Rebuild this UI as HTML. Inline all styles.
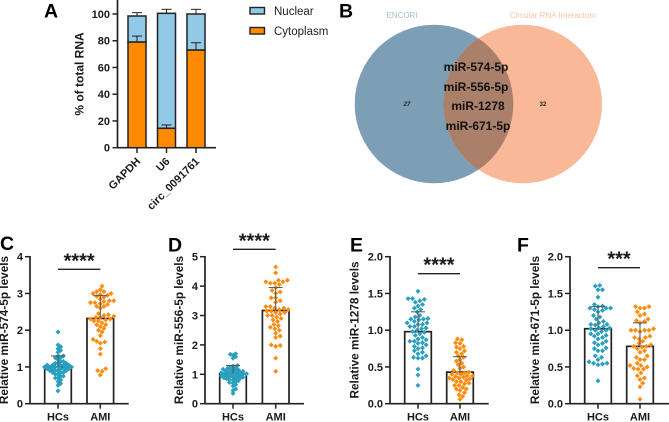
<!DOCTYPE html>
<html><head><meta charset="utf-8"><style>
html,body{margin:0;padding:0;background:#fff}
svg{display:block;font-family:"Liberation Sans",sans-serif}
</style></head><body>
<svg id="fig" xmlns="http://www.w3.org/2000/svg" width="669" height="422" viewBox="0 0 669 422">
<defs><clipPath id="venn-clip"><circle cx="434" cy="104" r="79.3"/></clipPath></defs>
<g>
<circle cx="434" cy="104" r="79.3" fill="#7d9fb5"/>
<circle cx="522.7" cy="104" r="79.3" fill="#f9b897"/>
<circle cx="522.7" cy="104" r="79.3" fill="#aa806a" clip-path="url(#venn-clip)"/>
<text x="402" y="18" font-size="8" fill="#a6c0cf" text-anchor="middle">ENCORI</text>
<text x="553" y="18" font-size="8" fill="#f9c4a6" text-anchor="middle">Circular RNA Interactom</text>
<text x="407" y="106" font-size="6" font-style="italic" font-weight="bold" fill="#222" text-anchor="middle">27</text>
<text x="543" y="106" font-size="6" font-weight="bold" fill="#222" text-anchor="middle">32</text>
<g font-size="12" font-weight="bold" fill="#111" text-anchor="middle">
<text x="476" y="71">miR-574-5p</text>
<text x="476" y="91">miR-556-5p</text>
<text x="478" y="110">miR-1278</text>
<text x="478" y="130">miR-671-5p</text>
</g>
</g>
<g font-size="19.5" font-weight="bold" fill="#000">
<text x="44" y="17.5">A</text>
<text x="339" y="17.5">B</text>
<text x="0" y="250">C</text>
<text x="168" y="251.5">D</text>
<text x="350" y="251.5">E</text>
<text x="517" y="251.5">F</text>
</g>
<g>
<rect x="250" y="7.5" width="14.5" height="6.5" fill="#92c9e6" stroke="#222" stroke-width="1.4"/>
<text x="274" y="15" font-size="11.5" fill="#222">Nuclear</text>
<rect x="250" y="27.5" width="14.5" height="6.5" fill="#ff8a00" stroke="#222" stroke-width="1.4"/>
<text x="274" y="35" font-size="11.5" fill="#222">Cytoplasm</text>
</g>
<g id="charts"></g>
</svg>
<script>
// Panel A data
const aCategories = ['GAPDH', 'U6', 'circ_0091761'];
const aCytoplasm = [79, 14.5, 73];
const aCytoplasmErr = [4.5, 2.5, 5.5];
const aNuclearTop = [98.5, 100.5, 100];
const aNuclearErr = [2.5, 3, 3.5];
const aTicks = [0, 20, 40, 60, 80, 100];

// Panels C-F data
const groupNames = ['HCs', 'AMI'];
const cTicks = ['0', '1', '2', '3', '4'];
const dTicks = ['0', '1', '2', '3', '4', '5'];
const eTicks = ['0.0', '0.5', '1.0', '1.5', '2.0'];
const fTicks = ['0.0', '0.5', '1.0', '1.5', '2.0'];
const cMeans = [1.0, 2.32];
const cSds = [0.3, 0.62];
const dMeans = [1.02, 3.17];
const dSds = [0.28, 0.78];
const eMeans = [0.98, 0.43];
const eSds = [0.27, 0.21];
const fMeans = [1.02, 0.78];
const fSds = [0.3, 0.32];
const cHCs = [1.95,1.6,1.55,1.5,1.45,1.4,1.3,1.3,1.25,1.25,1.2,1.15,1.15,1.1,1.1,1.1,1.05,1.05,1.05,1.05,1.05,1,1,1,1,1,1,.95,.95,.95,.95,.95,.9,.9,.9,.9,.85,.85,.85,.8,.8,.75,.75,.7,.7,.65,.6,.55,.5,.35];
const cAMI = [3.2,3.1,3.05,3.05,3,3,2.97,2.95,2.92,2.9,2.85,2.8,2.8,2.78,2.75,2.75,2.72,2.7,2.65,2.65,2.6,2.45,2.42,2.4,2.38,2.35,2.35,2.3,2.3,2.28,2.25,2.25,2.2,2.15,2.15,2.1,2.05,2,1.95,1.85,1.75,1.7,1.68,1.65,1.5,1.35,.95,.9,.88,.78];
const dHCs = [1.7,1.68,1.65,1.6,1.55,1.3,1.28,1.25,1.22,1.2,1.18,1.17,1.15,1.13,1.12,1.1,1.1,1.08,1.07,1.05,1.05,1.03,1.02,1,1,1,.98,.97,.95,.95,.93,.92,.9,.9,.88,.87,.85,.85,.82,.8,.78,.75,.72,.7,.65,.6,.5,.45,.35];
const dAMI = [4.65,4.45,4.2,4.2,4.15,4.15,4.1,4.1,4.05,3.95,3.85,3.8,3.75,3.6,3.6,3.5,3.45,3.3,3.3,3.25,3.25,3.2,3.2,3.15,3.15,3.1,3.1,3.05,3,3,2.95,2.9,2.85,2.8,2.7,2.65,2.6,2.55,2.5,2.4,2.3,2.25,2,1.98,1.95,1.55,1.1];
const eHCs = [1.53,1.43,1.43,1.42,1.4,1.38,1.35,1.33,1.3,1.28,1.25,1.2,1.18,1.16,1.15,1.15,1.14,1.12,1.1,1.1,1.08,1.08,1.05,1.05,1.03,1.02,1,.98,.97,.95,.93,.9,.88,.87,.85,.85,.83,.82,.8,.78,.76,.75,.72,.7,.68,.65,.63,.62,.62,.47,.39,.25];
const eAMI = [.88,.87,.83,.82,.78,.77,.75,.72,.7,.68,.65,.63,.6,.58,.55,.53,.5,.48,.45,.43,.42,.42,.4,.4,.38,.38,.37,.36,.35,.35,.34,.33,.32,.3,.3,.28,.27,.25,.25,.22,.2,.2,.18,.15,.12,.1,.06];
const fHCs = [1.61,1.6,1.55,1.55,1.45,1.35,1.33,1.32,1.3,1.3,1.3,1.28,1.27,1.25,1.2,1.18,1.15,1.12,1.1,1.08,1.08,1.07,1.05,1.03,1.03,1.02,1,1,.98,.95,.95,.93,.92,.9,.88,.85,.83,.82,.8,.76,.75,.72,.72,.65,.63,.6,.57,.55,.55,.54,.53,.31];
const fAMI = [1.32,1.32,1.3,1.3,1.25,1.22,1.2,1.15,1.13,1.12,1.1,1.02,1,1,1,1,.98,.92,.9,.9,.88,.85,.82,.8,.78,.78,.77,.75,.72,.7,.65,.63,.6,.6,.55,.52,.52,.5,.48,.47,.47,.42,.38,.35,.33,.28,.23,.06];

const NS = 'http://www.w3.org/2000/svg';
const root = document.getElementById('charts');
const INK = '#222';

function make(tag, attrs, parent, label) {
  const el = document.createElementNS(NS, tag);
  for (const k in attrs) el.setAttribute(k, attrs[k]);
  
  
  parent.appendChild(el);
  return el;
}
function line(x1, y1, x2, y2, w, parent, label, color) {
  return make('line', {x1, y1, x2, y2, stroke: color || INK, 'stroke-width': w}, parent, label);
}
function label(x, y, str, size, anchor, parent, name, extra) {
  const t = make('text', Object.assign({x, y, 'font-size': size, 'font-weight': 'bold', 'text-anchor': anchor, fill: '#1a1a1a'}, extra || {}), parent, name);
  t.textContent = str;
  return t;
}

// Panel A: stacked bars
(function () {
  const g = make('g', {}, root, 'panel-a-stacked-bars');
  const y = v => 147.7 - v * 1.337;
  const x = i => 137 + i * 29.5;
  const halfW = 9;
  line(117.5, 0, 117.5, 148.5, 1.7, g, 'panel-a-y-axis');
  line(117, 147.7, 216, 147.7, 1.7, g, 'panel-a-x-axis');
  aTicks.forEach(v => {
    line(112.5, y(v), 117.5, y(v), 1.5, g, 'panel-a-y-tick');
    label(110, y(v) + 4, String(v), 11, 'end', g, 'panel-a-y-tick-label');
  });
  label(0, 0, '% of total RNA', 12, 'middle', g, 'panel-a-y-axis-title', {transform: 'translate(83.5 74) rotate(-90)'});
  aCategories.forEach((c, i) => {
    const cx = x(i);
    line(cx, y(aNuclearTop[i]), cx, y(aNuclearTop[i] + aNuclearErr[i]), 1, g, 'nuclear-error-bar');
    line(cx - 5, y(aNuclearTop[i] + aNuclearErr[i]), cx + 5, y(aNuclearTop[i] + aNuclearErr[i]), 1, g, 'nuclear-error-cap');
    make('rect', {x: cx - halfW, y: y(aNuclearTop[i]), width: halfW * 2, height: y(aCytoplasm[i]) - y(aNuclearTop[i]), fill: '#92c9e6', stroke: INK, 'stroke-width': 1.5}, g, 'bar-nuclear-' + c);
    line(cx, y(aCytoplasm[i]), cx, y(aCytoplasm[i] + aCytoplasmErr[i]), 1, g, 'cytoplasm-error-bar');
    line(cx - 5, y(aCytoplasm[i] + aCytoplasmErr[i]), cx + 5, y(aCytoplasm[i] + aCytoplasmErr[i]), 1, g, 'cytoplasm-error-cap');
    make('rect', {x: cx - halfW, y: y(aCytoplasm[i]), width: halfW * 2, height: y(0) - y(aCytoplasm[i]), fill: '#ff8a00', stroke: INK, 'stroke-width': 1.5}, g, 'bar-cytoplasm-' + c);
    line(cx, 147.7, cx, 153, 1.5, g, 'panel-a-x-tick');
    label(cx + 4, 162, c, 11, 'end', g, 'panel-a-x-label', {transform: 'rotate(-45 ' + (cx + 4) + ' 162)'});
  });
})();

// Beeswarm offsets derived from the values and the y scale
function swarmOnce(values, y, d) {
  const placed = [];
  const sorted = values.slice().sort((a, b) => a - b);
  sorted.forEach(v => {
    const py = y(v);
    let k = 0;
    while (true) {
      const off = (k % 2 ? 1 : -1) * Math.ceil(k / 2) * 0.9;
      if (!placed.some(p => (p.x - off) * (p.x - off) + (p.y - py) * (p.y - py) < d * d)) {
        placed.push({x: off, y: py});
        break;
      }
      k++;
    }
  });
  return placed;
}
// Tighten the swarm until it fits within the bar's width
function swarm(values, y, d, maxOffset) {
  let spacing = d;
  let pts = swarmOnce(values, y, spacing);
  while (spacing > 1.5 && pts.some(p => Math.abs(p.x) > maxOffset)) {
    spacing -= 0.1;
    pts = swarmOnce(values, y, spacing);
  }
  return pts;
}

function scatterPanel(cfg) {
  const g = make('g', {}, root, cfg.name);
  const base = 403.7, top = 256.7;
  const y = v => base - (v / cfg.max) * (base - top);
  const colors = ['#2a9fc0', '#ff8c0f'];
  line(cfg.axisX, top - 0.7, cfg.axisX, base + 0.7, 1.7, g, cfg.name + '-y-axis');
  line(cfg.axisX, base, cfg.endX, base, 1.7, g, cfg.name + '-x-axis');
  cfg.ticks.forEach(t => {
    const v = parseFloat(t);
    line(cfg.axisX - 5, y(v), cfg.axisX, y(v), 1.5, g, cfg.name + '-y-tick');
    label(cfg.axisX - 7, y(v) + 4, t, 11, 'end', g, cfg.name + '-y-tick-label');
  });
  label(0, 0, cfg.title, 11.8, 'middle', g, cfg.name + '-y-axis-title', {transform: 'translate(' + cfg.titleX + ' 330) rotate(-90)'});
  groupNames.forEach((name, i) => {
    const cx = cfg.centers[i];
    make('rect', {x: cx - 13.3, y: y(cfg.means[i]), width: 26.6, height: base - y(cfg.means[i]), fill: '#fff', stroke: INK, 'stroke-width': 1.7}, g, 'bar-' + name);
    const hi = y(cfg.means[i] + cfg.sds[i]);
    swarm(cfg.series[i], y, 4.1, 13.5).forEach(p => {
      const px = cx + p.x, py = p.y, r = 2.5;
      make('path', {d: 'M' + px + ' ' + (py - r) + 'L' + (px + r) + ' ' + py + 'L' + px + ' ' + (py + r) + 'L' + (px - r) + ' ' + py + 'Z', fill: colors[i]}, g, 'point-' + name);
    });
    line(cx, hi, cx, y(cfg.means[i]), 1, g, 'error-bar-' + name, '#555');
    line(cx - 7, hi, cx + 7, hi, 1, g, 'error-cap-' + name, '#555');
    line(cx, base, cx, base + 5, 1.5, g, cfg.name + '-x-tick');
    label(cx, 422 - 1.5, name, 11, 'middle', g, cfg.name + '-x-label');
  });
  line(cfg.centers[0], cfg.sigY, cfg.centers[1], cfg.sigY, 1.3, g, cfg.name + '-significance-line');
  label((cfg.centers[0] + cfg.centers[1]) / 2, cfg.sigY - 2, cfg.stars, 20, 'middle', g, cfg.name + '-significance-stars');
}

scatterPanel({name: 'panel-c', axisX: 30, endX: 128.7, centers: [58, 100.3], max: 4, ticks: cTicks, means: cMeans, sds: cSds, series: [cHCs, cAMI], title: 'Relative miR-574-5p levels', titleX: 8, sigY: 269.3, stars: '****'});
scatterPanel({name: 'panel-d', axisX: 205, endX: 304, centers: [233, 275.7], max: 5, ticks: dTicks, means: dMeans, sds: dSds, series: [dHCs, dAMI], title: 'Relative miR-556-5p levels', titleX: 183, sigY: 249.3, stars: '****'});
scatterPanel({name: 'panel-e', axisX: 390, endX: 488.7, centers: [418, 460], max: 2, ticks: eTicks, means: eMeans, sds: eSds, series: [eHCs, eAMI], title: 'Relative miR-1278 levels', titleX: 358.5, sigY: 273.7, stars: '****'});
scatterPanel({name: 'panel-f', axisX: 570, endX: 669, centers: [598, 640], max: 2, ticks: fTicks, means: fMeans, sds: fSds, series: [fHCs, fAMI], title: 'Relative miR-671-5p levels', titleX: 539, sigY: 267.7, stars: '***'});
</script>
</body></html>
